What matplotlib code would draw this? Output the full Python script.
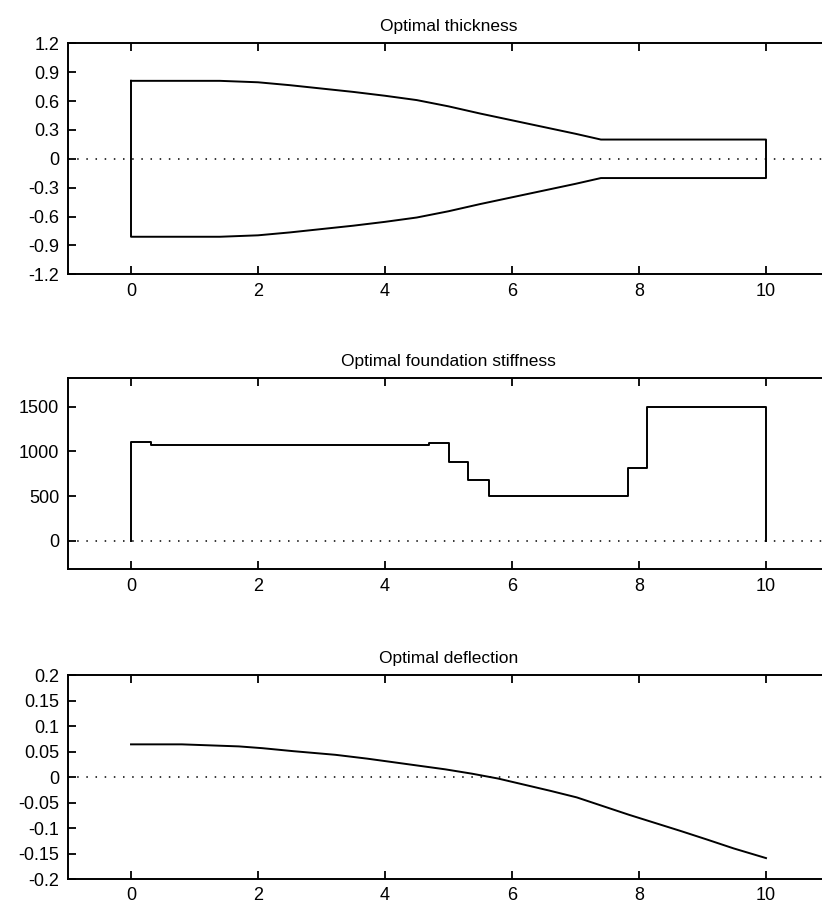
import matplotlib
matplotlib.use('Agg')
import matplotlib.pyplot as plt
import numpy as np

plt.rcParams['font.family'] = ['DejaVu Sans Condensed', 'Liberation Sans Narrow', 'Liberation Sans', 'DejaVu Sans']

# half thickness along the beam (plotted as +h and -h)
thick_x = [0, 0.5, 1.0, 1.4, 2.0, 2.5, 3.0, 3.5, 4.0, 4.5, 5.0, 5.5, 6.0, 6.5, 7.0, 7.2, 7.4, 10]
thick_h = [0.81, 0.81, 0.81, 0.81, 0.795, 0.765, 0.73, 0.695, 0.655, 0.61, 0.545, 0.47, 0.40, 0.33, 0.26, 0.23, 0.2, 0.2]

# foundation stiffness, piecewise constant
stiff_edges = [0, 0.31, 4.69, 5.0, 5.3, 5.63, 7.82, 8.13, 10]
stiff_vals = [1110, 1070, 1095, 880, 680, 500, 810, 1500]

# deflection
defl_x = [0, 0.8, 1.7, 2.07, 2.56, 3.22, 3.72, 4.13, 4.54, 4.95, 5.37, 5.78, 6.19, 6.6, 7.02, 7.43,
          7.84, 8.25, 8.66, 9.08, 9.49, 10]
defl_y = [0.064, 0.064, 0.060, 0.0565, 0.0506, 0.0435, 0.036, 0.029, 0.022, 0.015, 0.0065, -0.003,
          -0.015, -0.027, -0.040, -0.057, -0.074, -0.09, -0.106, -0.123, -0.140, -0.159]

fig = plt.figure(figsize=(8.22, 9.13), dpi=100)
W, H = 822.0, 913.0

def make_ax(top, bottom):
    return fig.add_axes([67.5 / W, 1 - bottom / H, 762 / W, (bottom - top) / H])

def style(ax, title):
    ax.set_xlim(-1, 11)
    ax.set_xticks([0, 2, 4, 6, 8, 10])
    ax.tick_params(direction='in', length=6, width=1.3, top=True, right=True,
                   labelsize=13, pad=6)
    for s in ax.spines.values():
        s.set_linewidth(1.4)
    ax.set_title(title, fontsize=12.5, pad=9)
    ax.axhline(0, color='black', lw=1.1, linestyle=(0, (1, 5)))

ax1 = make_ax(43.3, 274.3)
x = np.array(thick_x)
h = np.array(thick_h)
ax1.plot(np.r_[x, x[::-1], x[:1]], np.r_[h, -h[::-1], h[:1]], color='black', lw=1.4)
ax1.set_ylim(-1.2, 1.2)
ax1.set_yticks(np.arange(-1.2, 1.21, 0.3))
ax1.set_yticklabels(['-1.2', '-0.9', '-0.6', '-0.3', '0', '0.3', '0.6', '0.9', '1.2'])
style(ax1, 'Optimal thickness')

ax2 = make_ax(378.3, 569.3)
sx = [stiff_edges[0]]
sy = [0]
for i, v in enumerate(stiff_vals):
    sx += [stiff_edges[i], stiff_edges[i + 1]]
    sy += [v, v]
sx.append(stiff_edges[-1])
sy.append(0)
ax2.plot(sx, sy, color='black', lw=1.4)
ax2.set_ylim(-316, 1816)
ax2.set_yticks([0, 500, 1000, 1500])
style(ax2, 'Optimal foundation stiffness')

ax3 = make_ax(675, 879)
ax3.plot(defl_x, defl_y, color='black', lw=1.4)
ax3.set_ylim(-0.2, 0.2)
ax3.set_yticks(np.arange(-0.2, 0.201, 0.05))
ax3.set_yticklabels(['-0.2', '-0.15', '-0.1', '-0.05', '0', '0.05', '0.1', '0.15', '0.2'])
style(ax3, 'Optimal deflection')

fig.savefig('out.png', dpi=100)
